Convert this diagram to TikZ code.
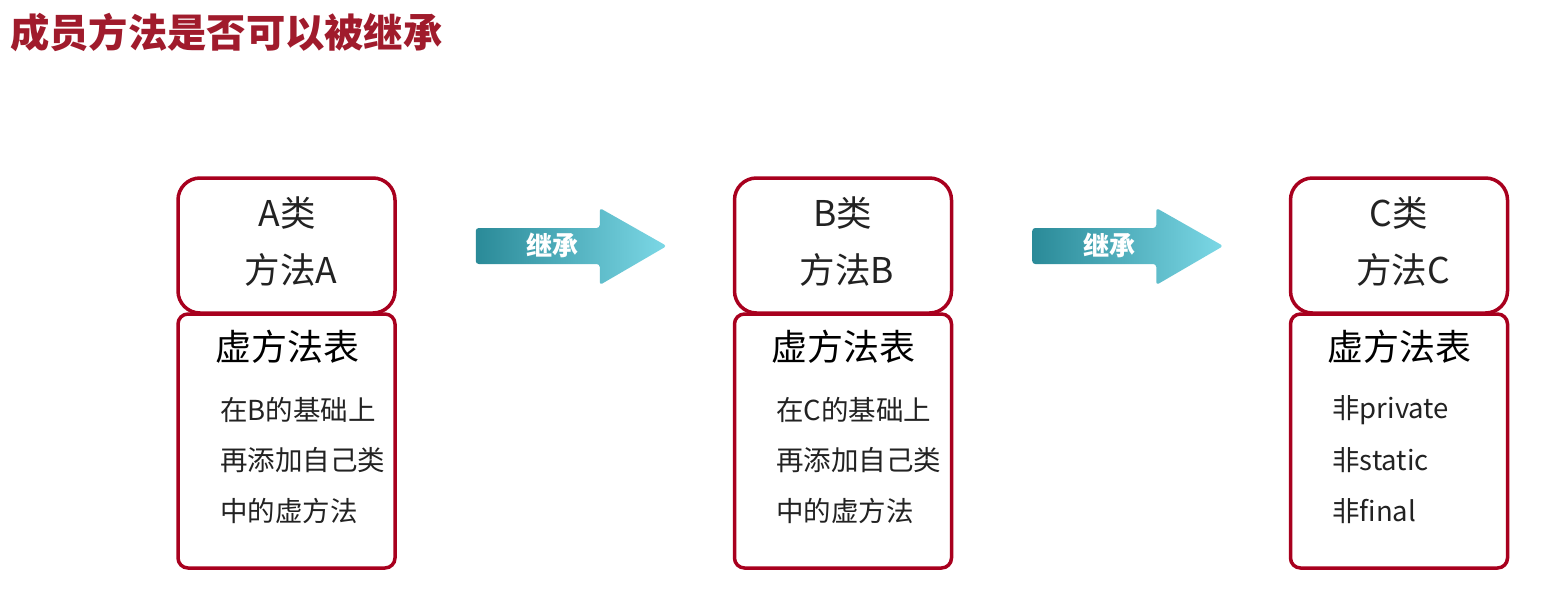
\documentclass[tikz,border=0pt]{standalone}
\usepackage{fontspec}
\setmainfont{Noto Sans CJK SC}
\usepackage{xcolor}
\definecolor{boxred}{HTML}{A8001E}
\definecolor{titlered}{HTML}{A01B2C}
\definecolor{textdark}{HTML}{222222}
\definecolor{arrowdark}{HTML}{2A8A98}
\definecolor{arrowmid}{HTML}{62C8D8}
\definecolor{arrowlight}{HTML}{7CD8E6}
\usetikzlibrary{positioning, calc}

\begin{document}
\begin{tikzpicture}[x=1pt, y=-1pt,
  headbox/.style={draw=boxred, line width=3.5pt, rounded corners=22pt,
    minimum width=217pt, minimum height=135pt, inner sep=0pt},
  tablebox/.style={draw=boxred, line width=3.5pt, rounded corners=10pt,
    minimum width=217pt, minimum height=254pt, inner sep=0pt},
  headtxt/.style={font=\fontsize{35.5pt}{40pt}\selectfont, text=textdark, inner sep=0pt},
  tabletitle/.style={font=\fontsize{36pt}{42pt}\selectfont, text=black, inner sep=0pt},
  itemtxt/.style={font=\fontsize{27.5pt}{32pt}\selectfont, text=textdark, anchor=west, inner sep=0pt},
  inherittxt/.style={font=\bfseries\fontsize{26pt}{30pt}\selectfont, text=white, inner sep=0pt}
]
  \useasboundingbox[fill=white] (0,0) rectangle (1555,594);

  \node[font=\bfseries\fontsize{39.3pt}{46pt}\selectfont, text=titlered, anchor=west, inner sep=0pt]
    (title) at (10,33) {成员方法是否可以被继承};

  % class A
  \node[headbox]  (aHead)  at (286.5,245.5) {};
  \node[tablebox] (aTable) at (286.5,441) {};
  \node[headtxt] (aName)   at (287,213) {A类};
  \node[headtxt] (aMethod) at (291,270) {方法A};
  \node[tabletitle] (aTitle) at (287,347) {虚方法表};
  \node[itemtxt] (aItem1) at (220,410) {在B的基础上};
  \node[itemtxt] (aItem2) at (220,460) {再添加自己类};
  \node[itemtxt] (aItem3) at (220,511) {中的虚方法};

  % class B
  \node[headbox]  (bHead)  at (843,245.5) {};
  \node[tablebox] (bTable) at (843,441) {};
  \node[headtxt] (bName)   at (843,213) {B类};
  \node[headtxt] (bMethod) at (847,270) {方法B};
  \node[tabletitle] (bTitle) at (843,347) {虚方法表};
  \node[itemtxt] (bItem1) at (776,410) {在C的基础上};
  \node[itemtxt] (bItem2) at (776,460) {再添加自己类};
  \node[itemtxt] (bItem3) at (776,511) {中的虚方法};

  % class C
  \node[headbox]  (cHead)  at (1399,245.5) {};
  \node[tablebox] (cTable) at (1399,441) {};
  \node[headtxt] (cName)   at (1399,213) {C类};
  \node[headtxt] (cMethod) at (1403,270) {方法C};
  \node[tabletitle] (cTitle) at (1399,347) {虚方法表};
  \node[itemtxt] (cItem1) at (1332,410) {非private};
  \node[itemtxt] (cItem2) at (1332,460) {非static};
  \node[itemtxt] (cItem3) at (1332,511) {非final};

  % inheritance arrows
  \foreach \from in {aHead, bHead} {
    \shade[shift={($(\from.east)+(79,0.5)$)}, rounded corners=3pt,
      left color=arrowdark, middle color=arrowmid, right color=arrowlight]
      (0,-18) -- (124,-18) -- (124,-38) -- (191,0) -- (124,39) -- (124,18) -- (0,18) -- cycle;
    \node[inherittxt] (arrow-\from) at ($(\from.east)+(156,0)$) {继承};
  }
\end{tikzpicture}
\end{document}
